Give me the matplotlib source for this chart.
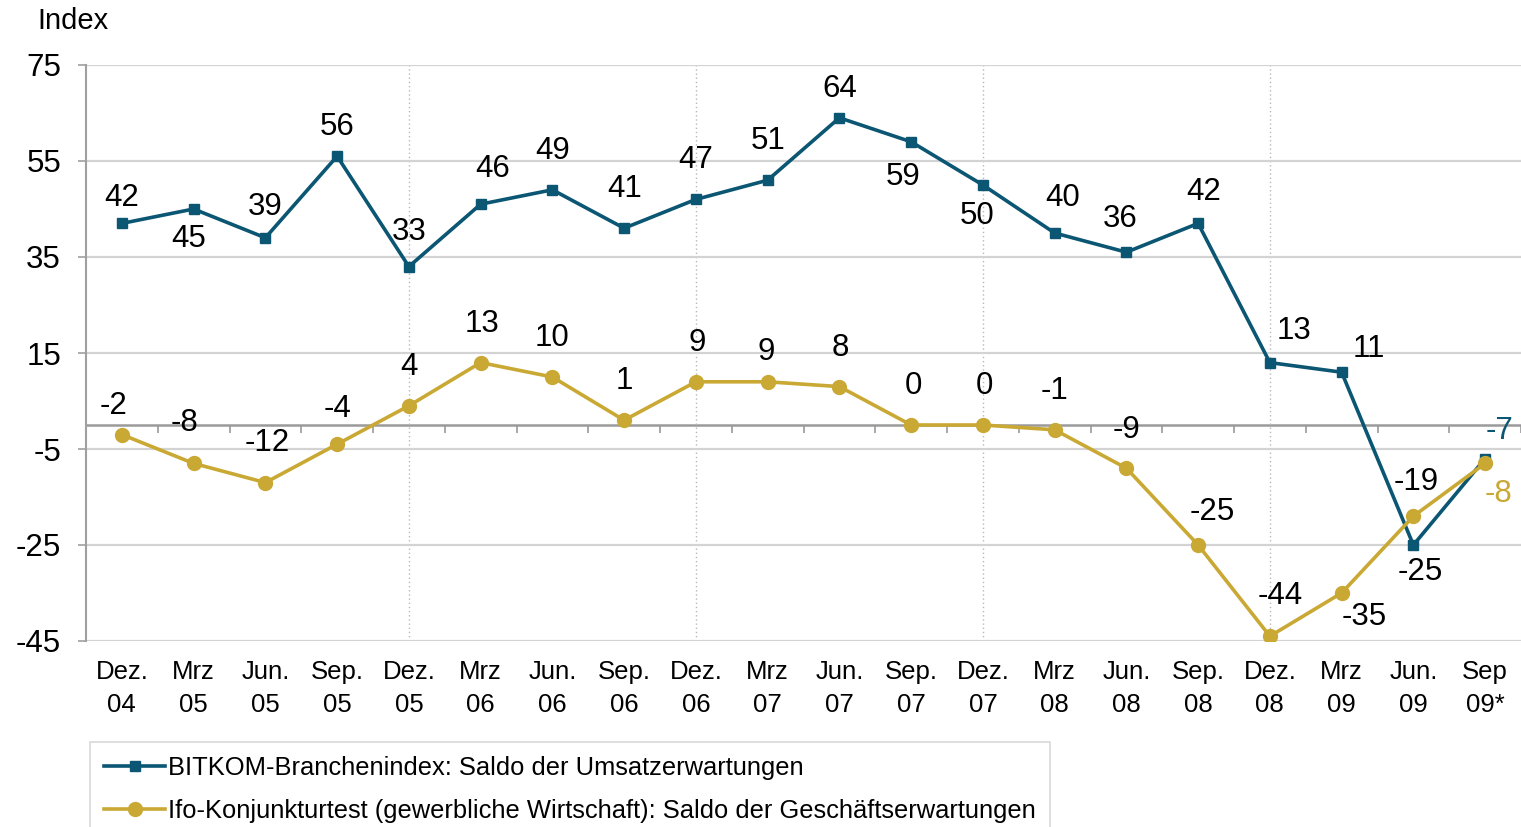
import numpy as np
import matplotlib
matplotlib.use("Agg")
import matplotlib.pyplot as plt

plt.rcParams['font.family'] = ['Liberation Sans', 'DejaVu Sans']
plt.rcParams['axes.unicode_minus'] = False

categories = ["Dez.\n04", "Mrz\n05", "Jun.\n05", "Sep.\n05", "Dez.\n05", "Mrz\n06", "Jun.\n06",
              "Sep.\n06", "Dez.\n06", "Mrz\n07", "Jun.\n07", "Sep.\n07", "Dez.\n07", "Mrz\n08",
              "Jun.\n08", "Sep.\n08", "Dez.\n08", "Mrz\n09", "Jun.\n09", "Sep\n09*"]
bitkom = [42, 45, 39, 56, 33, 46, 49, 41, 47, 51, 64, 59, 50, 40, 36, 42, 13, 11, -25, -7]
ifo = [-2, -8, -12, -4, 4, 13, 10, 1, 9, 9, 8, 0, 0, -1, -9, -25, -44, -35, -19, -8]
yticks = [75, 55, 35, 15, -5, -25, -45]
label_bitkom = "BITKOM-Branchenindex: Saldo der Umsatzerwartungen"
label_ifo = "Ifo-Konjunkturtest (gewerbliche Wirtschaft): Saldo der Geschäftserwartungen"

# label offsets in pixels (style)
off_bitkom = [(0, 25), (-5, -30), (0, 31), (0, 29), (0, 35), (12, 35), (0, 39), (0, 39), (0, 39),
              (0, 39), (0, 29), (-8, -35), (-6, -31), (8, 35), (-6, 33), (6, 31), (24, 32),
              (27, 23), (7, -27), (14, 28)]
off_ifo = [(-8, 29), (-9, 40), (2, 40), (0, 35), (0, 39), (1, 39), (0, 39), (0, 39), (1, 39),
           (-1, 30), (1, 39), (2, 39), (2, 39), (0, 39), (0, 38), (14, 33), (10, 40), (23, -24),
           (3, 34), (13, -31)]

teal = "#0b5673"
gold = "#c9a934"
grid_c = "#d3d3d3"

fig = plt.figure(figsize=(15.21, 8.27), dpi=100)
ax = fig.add_axes([86/1521, 1-641/827, 1-86/1521, (641-65)/827])
x = np.arange(len(categories))

ax.set_xlim(-0.5, len(categories)-0.5)
ax.set_ylim(-45, 75)
ax.set_yticks(yticks)
ax.tick_params(axis='y', labelsize=22.5, length=6, width=1.2, color="#a0a0a0", pad=12)
ax.set_xticks(x, categories)
ax.tick_params(axis='x', labelsize=18.5, length=0, pad=14)
for t in ax.get_xticklabels():
    t.set_linespacing(1.45)
for s in ['top', 'right', 'bottom']:
    ax.spines[s].set_visible(False)
ax.spines['left'].set_color("#a0a0a0")
ax.spines['left'].set_linewidth(1.5)
ax.grid(axis='y', color=grid_c, lw=1.6)
ax.set_axisbelow(True)
for i in range(4, len(categories), 4):
    ax.axvline(i, color="#b8b8b8", lw=1.0, ls=(0, (1, 2)), zorder=0)

# zero axis with ticks between categories
ax2 = ax.twiny()
ax2.set_xlim(ax.get_xlim())
for s in ['top', 'right', 'left']:
    ax2.spines[s].set_visible(False)
ax2.spines['bottom'].set_position(('data', 0))
ax2.spines['bottom'].set_color("#9a9a9a")
ax2.spines['bottom'].set_linewidth(1.8)
ax2.xaxis.set_ticks_position('bottom')
ax2.set_xticks(np.arange(-0.5, len(categories), 1))
ax2.tick_params(axis='x', length=6, width=1.2, color="#9a9a9a", labelbottom=False, labeltop=False, top=False)
ax2.set_zorder(ax.get_zorder() - 1)
ax.patch.set_visible(False)

ax.plot(x, bitkom, color=teal, lw=2.6, marker='s', ms=7.5, label=label_bitkom, zorder=3)
ax.plot(x, ifo, color=gold, lw=2.6, marker='o', ms=10, label=label_ifo, zorder=3)

for i, v in enumerate(bitkom):
    c = teal if i == len(bitkom)-1 else 'black'
    ax.annotate(f"{v}", (x[i], v), xytext=off_bitkom[i], textcoords='offset pixels',
                ha='center', va='center', fontsize=22.5, color=c, zorder=4)
for i, v in enumerate(ifo):
    c = gold if i == len(ifo)-1 else 'black'
    ax.annotate(f"{v}", (x[i], v), xytext=off_ifo[i], textcoords='offset pixels',
                ha='center', va='center', fontsize=22.5, color=c, zorder=4)

fig.text(37/1521, 1-21/827, "Index", fontsize=21, ha='left', va='center')

leg = ax.legend(loc='upper left', bbox_to_anchor=(90/1521, 1-742/827), bbox_transform=fig.transFigure,
                borderaxespad=0, fontsize=18.4, frameon=True, fancybox=False, handlelength=2.4,
                handletextpad=0.1, labelspacing=0.75, borderpad=0.55)
leg.get_frame().set_edgecolor("#d0d0d0")
leg.get_frame().set_linewidth(1.2)

fig.savefig("out.png", dpi=100)
